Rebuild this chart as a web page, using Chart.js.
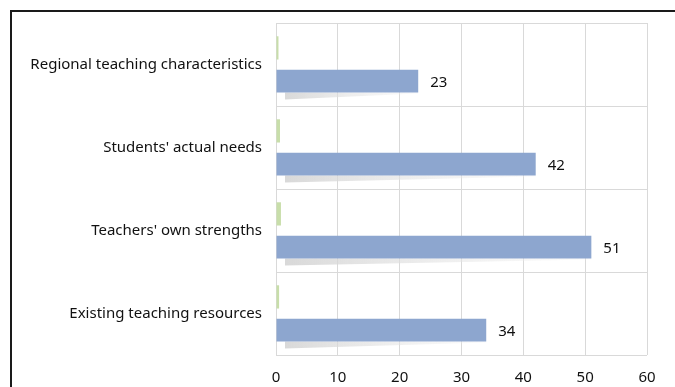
<!DOCTYPE html>
<html>
<head>
<meta charset="utf-8">
<script src="https://cdn.jsdelivr.net/npm/chart.js@4"></script>
<style>
  html, body { margin: 0; padding: 0; background: #fff; overflow: hidden; }
  #frame { position: absolute; left: 10px; top: 10px; width: 700px; height: 420px; border: 2px solid #1a1a1a; }
  #wrap { position: absolute; left: 0; top: 0; width: 675px; height: 387px; }
</style>
</head>
<body>
<div id="frame"></div>
<div id="wrap"><canvas id="barChart"></canvas></div>
<script>
const categories = ['Regional teaching characteristics', "Students' actual needs", "Teachers' own strengths", 'Existing teaching resources'];
const minorValues = [0.4, 0.65, 0.8, 0.5];
const countValues = [23, 42, 51, 34];
const xTicks = [0, 10, 20, 30, 40, 50, 60];

const FONT = "'Noto Sans', 'Open Sans', sans-serif";

// grey wedge shadow under the blue bars + value labels
const barDecor = {
    id: 'barDecor',
    beforeDatasetsDraw(chart) {
        const ctx = chart.ctx;
        const meta = chart.getDatasetMeta(1);
        const x0 = chart.scales.x.getPixelForValue(0);
        meta.data.forEach(bar => {
            const bottom = bar.y + bar.height / 2;
            const left = x0 + 9;
            const grad = ctx.createLinearGradient(left, 0, bar.x, 0);
            grad.addColorStop(0, 'rgba(210,210,210,0.85)');
            grad.addColorStop(1, 'rgba(240,240,240,0.3)');
            ctx.save();
            ctx.fillStyle = grad;
            ctx.beginPath();
            ctx.moveTo(left, bottom);
            ctx.lineTo(bar.x, bottom);
            ctx.lineTo(bar.x, bottom + 1);
            ctx.lineTo(left, bottom + 7);
            ctx.closePath();
            ctx.fill();
            ctx.restore();
        });
    },
    afterDatasetsDraw(chart) {
        const ctx = chart.ctx;
        const meta = chart.getDatasetMeta(1);
        ctx.save();
        ctx.font = '15px ' + FONT;
        ctx.fillStyle = '#111';
        ctx.textAlign = 'left';
        ctx.textBaseline = 'middle';
        meta.data.forEach((bar, i) => {
            ctx.fillText(String(countValues[i]), bar.x + 12, bar.y + 2);
        });
        ctx.restore();
    }
};

new Chart(document.getElementById('barChart').getContext('2d'), {
    type: 'bar',
    data: {
        labels: categories,
        datasets: [{
            label: 'Share',
            data: minorValues,
            backgroundColor: '#C8DEAA',
            categoryPercentage: 0.8,
            barPercentage: 0.7
        }, {
            label: 'Count',
            data: countValues,
            backgroundColor: '#8DA6CF',
            categoryPercentage: 0.8,
            barPercentage: 0.68
        }]
    },
    options: {
        indexAxis: 'y',
        responsive: true,
        maintainAspectRatio: false,
        animation: false,
        layout: { padding: { top: 22, right: 28, left: 0, bottom: 0 } },
        plugins: {
            legend: { display: false },
            tooltip: { enabled: false }
        },
        scales: {
            x: {
                min: 0,
                max: 60,
                afterBuildTicks: axis => { axis.ticks = xTicks.map(v => ({ value: v })); },
                grid: { color: '#d9d9d9', lineWidth: 1, drawTicks: false },
                border: { display: false },
                ticks: { color: '#111', font: { family: FONT, size: 15 }, padding: 14 },
                afterFit: axis => { axis.height = 32; }
            },
            y: {
                grid: { color: '#d9d9d9', lineWidth: 1, drawTicks: false },
                border: { color: '#d9d9d9' },
                ticks: { color: '#111', font: { family: FONT, size: 15 }, padding: 14 },
                afterFit: axis => { axis.width = 276; }
            }
        }
    },
    plugins: [barDecor]
});
</script>
</body>
</html>
